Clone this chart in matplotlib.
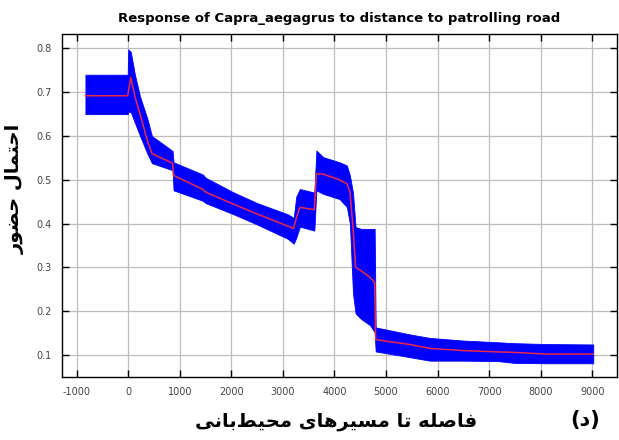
# Response curve of Capra aegagrus to distance to patrolling road (MaxEnt style)
# Blue band = mean +/- sd, red line = mean response

import numpy as np
import matplotlib
matplotlib.use("Agg")
import matplotlib.pyplot as plt

# distance to patrolling road (m)
distance = [-830, -10, 0, 50, 130, 230, 370, 460, 860, 880, 1450, 1500,
            2030, 2500, 3100, 3210, 3260, 3330, 3610, 3650, 3780, 4100,
            4240, 4300, 4360, 4410, 4520, 4690, 4780, 4800, 5460, 5850,
            6490, 7170, 7480, 8100, 9020]

# mean response
mean_resp = [0.692, 0.692, 0.700, 0.733, 0.690, 0.650, 0.590, 0.560, 0.538, 0.510, 0.478, 0.472,
             0.445, 0.422, 0.394, 0.389, 0.412, 0.437, 0.432, 0.514, 0.513, 0.500,
             0.491, 0.473, 0.392, 0.300, 0.292, 0.277, 0.266, 0.135, 0.124, 0.115,
             0.110, 0.107, 0.106, 0.102, 0.102]

# mean - sd
lower = [0.650, 0.650, 0.655, 0.655, 0.630, 0.600, 0.560, 0.538, 0.522, 0.476, 0.452, 0.447,
         0.422, 0.398, 0.365, 0.354, 0.368, 0.393, 0.384, 0.476, 0.468, 0.456,
         0.438, 0.400, 0.240, 0.195, 0.182, 0.168, 0.152, 0.108, 0.095, 0.087,
         0.087, 0.086, 0.082, 0.081, 0.081]

# mean + sd
upper = [0.740, 0.740, 0.798, 0.792, 0.740, 0.690, 0.640, 0.600, 0.566, 0.540, 0.512, 0.505,
         0.472, 0.447, 0.421, 0.413, 0.462, 0.479, 0.471, 0.567, 0.552, 0.540,
         0.533, 0.510, 0.470, 0.392, 0.388, 0.388, 0.388, 0.163, 0.147, 0.139,
         0.133, 0.129, 0.127, 0.125, 0.124]

x_ticks = [-1000, 0, 1000, 2000, 3000, 4000, 5000, 6000, 7000, 8000, 9000]
y_ticks = [0.1, 0.2, 0.3, 0.4, 0.5, 0.6, 0.7, 0.8]

title = "Response of Capra_aegagrus to distance to patrolling road"
y_label = "احتمال حضور"
x_label = "فاصله تا مسیرهای محیط\u200cبانی"
panel = "د"

# matplotlib has no arabic shaping, so map letters to presentation forms by hand
FORMS = {
    "ا": ("\uFE8D", "\uFE8E"),
    "د": ("\uFEA9", "\uFEAA"),
    "ر": ("\uFEAD", "\uFEAE"),
    "و": ("\uFEED", "\uFEEE"),
    "ب": ("\uFE8F", "\uFE90", "\uFE91", "\uFE92"),
    "ت": ("\uFE95", "\uFE96", "\uFE97", "\uFE98"),
    "ح": ("\uFEA1", "\uFEA2", "\uFEA3", "\uFEA4"),
    "س": ("\uFEB1", "\uFEB2", "\uFEB3", "\uFEB4"),
    "ص": ("\uFEB9", "\uFEBA", "\uFEBB", "\uFEBC"),
    "ض": ("\uFEBD", "\uFEBE", "\uFEBF", "\uFEC0"),
    "ط": ("\uFEC1", "\uFEC2", "\uFEC3", "\uFEC4"),
    "ف": ("\uFED1", "\uFED2", "\uFED3", "\uFED4"),
    "ل": ("\uFEDD", "\uFEDE", "\uFEDF", "\uFEE0"),
    "م": ("\uFEE1", "\uFEE2", "\uFEE3", "\uFEE4"),
    "ن": ("\uFEE5", "\uFEE6", "\uFEE7", "\uFEE8"),
    "ه": ("\uFEE9", "\uFEEA", "\uFEEB", "\uFEEC"),
    "ی": ("\uFBFC", "\uFBFD", "\uFBFE", "\uFBFF"),
}


def shape(s):
    out = []
    for i, c in enumerate(s):
        if c == "\u200c":
            continue
        if c not in FORMS:
            out.append(c)
            continue
        f = FORMS[c]
        prev = s[i - 1] if i > 0 else ""
        nxt = s[i + 1] if i + 1 < len(s) else ""
        join_prev = prev in FORMS and len(FORMS[prev]) == 4
        join_next = len(f) == 4 and nxt in FORMS
        if join_prev and join_next:
            out.append(f[3])
        elif join_prev:
            out.append(f[1])
        elif join_next:
            out.append(f[2])
        else:
            out.append(f[0])
    return "".join(out)[::-1]


plt.rcParams["font.family"] = ["DejaVu Sans"]

fig = plt.figure(figsize=(6.19, 4.40), dpi=100)
ax = fig.add_axes([0.0997, 0.1425, 0.897, 0.7802])

ax.fill_between(distance, lower, upper, color="#0000ff", linewidth=0.6,
                edgecolor="#0000ff", zorder=2)
ax.plot(distance, mean_resp, color="#ec2848", linewidth=1.1, zorder=3)

ax.set_xlim(-1290, 9480)
ax.set_ylim(0.049, 0.833)
ax.set_xticks(x_ticks)
ax.set_yticks(y_ticks)
ax.set_xticklabels([str(v) for v in x_ticks])
ax.set_yticklabels(["%.1f" % v for v in y_ticks])

ax.grid(True, color="#bdbdbd", linewidth=0.9)
ax.set_axisbelow(True)
ax.tick_params(direction="in", top=True, right=True, length=5, width=1,
               labelsize=7, labelcolor="#444444", pad=7)
for sp in ax.spines.values():
    sp.set_linewidth(1)

fig.text(0.548, 0.959, title, ha="center", va="center", fontsize=9.5, fontweight="bold")
fig.text(0.024, 0.57, shape(y_label), rotation=90, ha="center", va="center",
         fontsize=14, fontweight="bold")
fig.text(0.543, 0.043, shape(x_label), ha="center", va="center",
         fontsize=14, fontweight="bold")
fig.text(0.945, 0.045, "(" + shape(panel) + ")", ha="center", va="center",
         fontsize=15, fontweight="bold")

plt.savefig("out.png", dpi=100)
